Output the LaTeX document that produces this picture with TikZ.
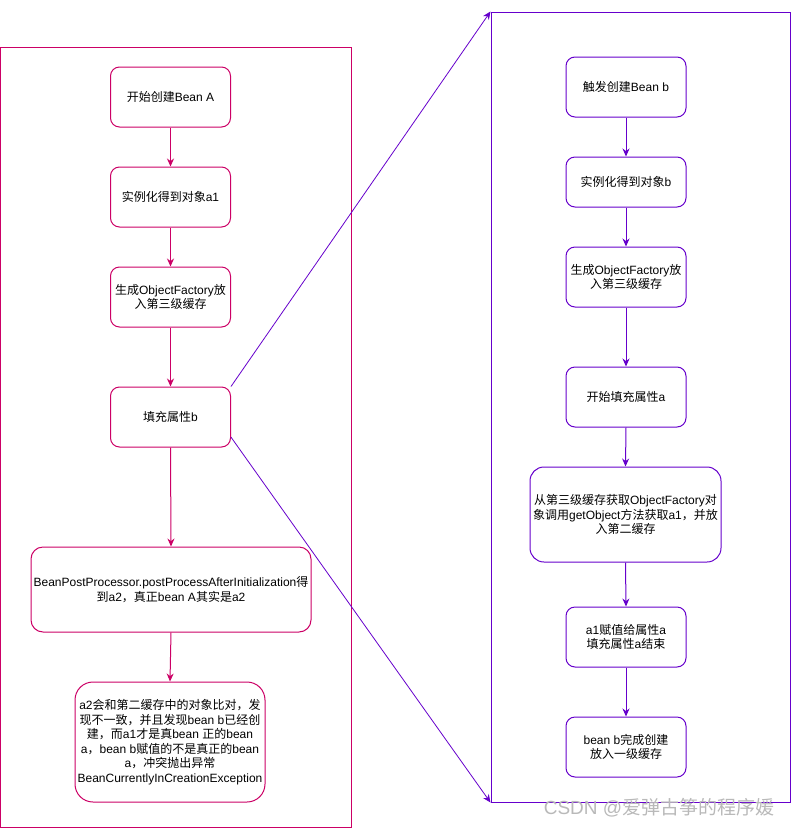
\documentclass[tikz,border=0pt]{standalone}
\usepackage{fontspec}
\setmainfont{Liberation Sans}
\newfontfamily\cjkf{Noto Sans CJK SC}
\newcommand{\zh}[1]{{\cjkf #1}}
\usetikzlibrary{arrows.meta,calc}
\definecolor{mag}{HTML}{CC0066}
\definecolor{pur}{HTML}{6600CC}
\begin{document}
\begin{tikzpicture}[x=1pt,y=-1pt,
  box/.style={draw,line width=1pt,rounded corners=9pt,align=center,inner sep=0pt,
    font=\fontsize{12}{14.5}\selectfont,minimum width=120pt,minimum height=60pt,text=black},
  lbox/.style={box,draw=mag},
  rbox/.style={box,draw=pur},
  cont/.style={draw,line width=1pt,inner sep=0pt},
  larr/.style={draw=mag,line width=1pt,-{Stealth[length=8pt,width=7pt]}},
  rarr/.style={draw=pur,line width=1pt,-{Stealth[length=8pt,width=7pt]}},
  xarr/.style={draw=pur,line width=0.8pt,-{Stealth[length=8pt,width=7pt]}}]
\useasboundingbox (0,0) rectangle (791,828);
\fill[white] (0,0) rectangle (791,828);
% containers
\node[cont,draw=mag,minimum width=350.5pt,minimum height=780pt] (LC) at (175.75,437) {};
\node[cont,draw=pur,minimum width=299pt,minimum height=790pt] (RC) at (640.5,407) {};
% left column
\node[lbox] (L1) at (170.5,97) {\zh{开始创建}Bean A};
\node[lbox] (L2) at (170.5,197) {\zh{实例化得到对象}a1};
\node[lbox] (L3) at (170.5,297) {\zh{生成}ObjectFactory\zh{放}\\\zh{入第三级缓存}};
\node[lbox] (L4) at (170.5,417) {\zh{填充属性}b};
\node[lbox,minimum width=280pt,minimum height=85pt,rounded corners=12pt] (L5) at (171,589.5)
  {BeanPostProcessor.postProcessAfterInitialization\zh{得}\\\zh{到}a2\zh{，真正}bean A\zh{其实是}a2};
\node[lbox,minimum width=190pt,minimum height=120pt,rounded corners=18pt] (L6) at (170,742)
  {a2\zh{会和第二缓存中的对象比对，发}\\\zh{现不一致，并且发现}bean b\zh{已经创}\\\zh{建，而}a1\zh{才是真}bean \zh{正的}bean\\a\zh{，}bean b\zh{赋值的不是真正的}bean\\a\zh{，冲突抛出异常}\\BeanCurrentlyInCreationException};
% right column
\node[rbox] (R1) at (626,87) {\zh{触发创建}Bean b};
\node[rbox,minimum height=50pt] (R2) at (626,182) {\zh{实例化得到对象}b};
\node[rbox] (R3) at (626,277) {\zh{生成}ObjectFactory\zh{放}\\\zh{入第三级缓存}};
\node[rbox] (R4) at (626,397) {\zh{开始填充属性}a};
\node[rbox,minimum width=191pt,minimum height=95pt,rounded corners=14pt] (R5) at (625.5,514.5)
  {\zh{从第三级缓存获取}ObjectFactory\zh{对}\\\zh{象调用}getObject\zh{方法获取}a1\zh{，并放}\\\zh{入第二缓存}};
\node[rbox] (R6) at (626,637) {a1\zh{赋值给属性}a\\\zh{填充属性}a\zh{结束}};
\node[rbox] (R7) at (626,747) {bean b\zh{完成创建}\\ \zh{放入一级缓存}};
% arrows left
\draw[larr] (L1) -- (L2);
\draw[larr] (L2) -- (L3);
\draw[larr] (L3) -- (L4);
\draw[larr] (L4.south) -- (L5.north);
\draw[larr] (L5.south) -- (L6.north);
% arrows right
\draw[rarr] (R1) -- (R2);
\draw[rarr] (R2) -- (R3);
\draw[rarr] (R3) -- (R4);
\draw[rarr] (R4.south) -- (R5.north);
\draw[rarr] (R5.south) -- (R6.north);
\draw[rarr] (R6) -- (R7);
% cross arrows
\draw[xarr] (L4.north east) -- (RC.north west);
\draw[xarr] ($(L4.north east)!0.83!(L4.south east)$) -- (RC.south west);
% watermark
\node[text=gray!55,font=\fontsize{19}{19}\selectfont,inner sep=0pt] (wm) at (659,808) {CSDN @\zh{爱弹古筝的程序媛}};
\end{tikzpicture}
\end{document}
